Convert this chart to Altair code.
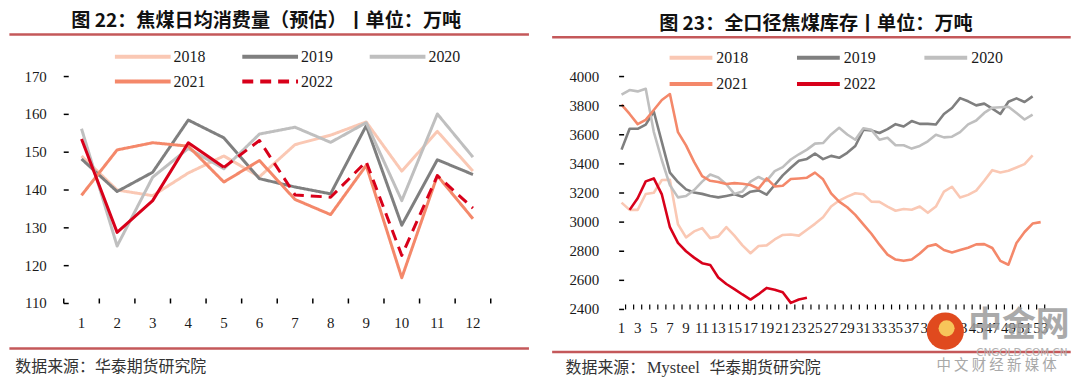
import altair as alt
import pandas as pd

# ---------------- data: left panel (焦煤日均消费量, 万吨) ----------------
months = list(range(1, 13))
cons_years = ["2018", "2019", "2020", "2021", "2022"]
cons_2018 = [149.0, 140.0, 138.5, 144.5, 149.0, 143.5, 152.0, 154.5, 158.0, 145.0, 155.5, 145.0]
cons_2019 = [148.2, 139.6, 144.7, 158.5, 153.8, 143.0, 140.8, 139.0, 157.0, 130.7, 148.0, 144.1]
cons_2020 = [156.2, 125.2, 143.4, 151.0, 145.6, 154.8, 156.6, 152.6, 157.8, 137.2, 160.1, 148.7]
cons_2021 = [138.6, 150.6, 152.5, 151.6, 142.1, 147.8, 137.5, 133.5, 146.5, 116.8, 143.8, 132.4]
cons_2022 = [153.5, 128.8, 137.2, 152.5, 146.0, 153.1, 138.7, 138.1, 147.5, 122.7, 143.8, 135.2]
cons_2022_actual = [True, True, True, True, True, False, False, False, False, False, False, False]
cons_yticks = [110, 120, 130, 140, 150, 160, 170]

# ---------------- data: right panel (全口径焦煤库存, 万吨) ----------------
weeks = list(range(1, 54))
inv_years = ["2018", "2019", "2020", "2021", "2022"]
inv_2018 = [3134, 3084, 3084, 3193, 3202, 3289, 3290, 2985, 2895, 2936, 2959, 2890, 2902,
            2966, 2907, 2840, 2786, 2836, 2840, 2881, 2912, 2915, 2907, 2948, 2988, 3034,
            3107, 3148, 3175, 3198, 3191, 3141, 3139, 3107, 3078, 3090, 3085, 3107, 3064,
            3107, 3209, 3243, 3169, 3187, 3216, 3284, 3357, 3341, 3353, 3375, 3398, 3459]
inv_2019 = [3498, 3641, 3641, 3670, 3760, 3550, 3340, 3275, 3225, 3203, 3194, 3180, 3170,
            3180, 3191, 3175, 3209, 3218, 3189, 3255, 3321, 3373, 3421, 3434, 3471, 3433,
            3455, 3442, 3476, 3523, 3634, 3630, 3612, 3639, 3673, 3657, 3694, 3675, 3675,
            3671, 3743, 3784, 3852, 3830, 3802, 3814, 3780, 3743, 3827, 3850, 3825, 3864]
inv_2020 = [3875, 3907, 3898, 3916, 3620, 3425, 3254, 3170, 3179, 3220, 3278, 3327, 3307,
            3260, 3194, 3210, 3278, 3310, 3283, 3350, 3378, 3430, 3466, 3498, 3539, 3543,
            3602, 3648, 3602, 3566, 3645, 3634, 3566, 3580, 3528, 3528, 3505, 3523, 3555,
            3600, 3582, 3587, 3618, 3671, 3698, 3750, 3786, 3789, 3793, 3750, 3705, 3739]
inv_2021 = [3807, 3743, 3673, 3702, 3770, 3839, 3880, 3618, 3527, 3414, 3316, 3284, 3275,
            3262, 3268, 3264, 3255, 3230, 3300, 3245, 3250, 3296, 3300, 3305, 3340, 3294,
            3198, 3141, 3102, 3050, 2984, 2920, 2845, 2777, 2743, 2734, 2743, 2784, 2834,
            2847, 2808, 2792, 2808, 2824, 2847, 2849, 2822, 2734, 2707, 2857, 2932, 2990, 3000]
inv_2022_start_week = 2
inv_2022 = [3084, 3164, 3280, 3300, 3190, 2965, 2857, 2800, 2756, 2718, 2706, 2620,
            2575, 2540, 2503, 2468, 2505, 2548, 2536, 2518, 2445, 2468, 2480]
inv_yticks = [2400, 2600, 2800, 3000, 3200, 3400, 3600, 3800, 4000]
inv_xlabels = list(range(1, 54, 2))

# ---------------- text ----------------
title_left = "图 22：焦煤日均消费量（预估）丨单位：万吨"
title_right = "图 23：全口径焦煤库存丨单位：万吨"
src_left = "数据来源：华泰期货研究院"
src_right_a = "数据来源："
src_right_b = "Mysteel"
src_right_c = "华泰期货研究院"

# ---------------- style ----------------
FONT_CJK = "Noto Sans CJK SC"
FONT_NUM = "Liberation Serif"
RULE_RED = "#C4585A"
TXT = "#1a1a1a"
COLORS = ["#FAC8B4", "#7F7F7F", "#BFBFBF", "#F4886A", "#D8001A"]
one = pd.DataFrame({"k": [0]})


def text_layer(txt, x, y, size, weight="normal", color=TXT, align="left", font=FONT_CJK, opacity=1.0):
    return alt.Chart(pd.DataFrame({"t": [txt]})).mark_text(
        font=font, fontSize=size, fontWeight=weight, color=color, align=align,
        baseline="middle", opacity=opacity
    ).encode(text="t:N", x=alt.value(x), y=alt.value(y))


def hrule(x1, x2, y, color=RULE_RED, w=2.5, opacity=1.0):
    return alt.Chart(one).mark_rule(color=color, strokeWidth=w, opacity=opacity).encode(
        x=alt.value(x1), x2=alt.value(x2), y=alt.value(y))


AXIS = alt.Axis(title=None, labels=False, tickSize=0, grid=False,
                domainColor="black", domainWidth=1.5)


def y_labels(ticks, dx):
    return alt.Chart(pd.DataFrame({"value": ticks})).mark_text(
        font=FONT_NUM, fontSize=15, color=TXT, align="right", baseline="middle"
    ).encode(y=alt.Y("value:Q", axis=None), x=alt.value(dx), text=alt.Text("value:Q", format="d"))


def x_labels(field, ticks, ypos):
    return alt.Chart(pd.DataFrame({field: ticks})).mark_text(
        font=FONT_NUM, fontSize=15, color=TXT, align="center", baseline="middle"
    ).encode(x=alt.X(f"{field}:Q", axis=None), y=alt.value(ypos), text=alt.Text(f"{field}:Q", format="d"))


# ================= LEFT PANEL =================
W1, H1 = 429, 228
rows = []
for yr, vals in zip(cons_years[:4], [cons_2018, cons_2019, cons_2020, cons_2021]):
    rows += [{"month": m, "value": v, "year": yr} for m, v in zip(months, vals)]
last_act = max(m for m, a in zip(months, cons_2022_actual) if a)
rows += [{"month": m, "value": v, "year": "2022"} for m, v in zip(months, cons_2022) if m >= last_act]
df_left = pd.DataFrame(rows)
df_left_act = pd.DataFrame([{"month": m, "value": v} for m, v, a in zip(months, cons_2022, cons_2022_actual) if a])

xl = alt.X("month:Q", scale=alt.Scale(domain=[0.5, 12.5], nice=False, zero=False), axis=AXIS)
yl = alt.Y("value:Q", scale=alt.Scale(domain=[110, 170], nice=False, zero=False), axis=AXIS)

leg_left = dict(title=None, orient="none", legendX=49.4, legendY=-28, columns=3, direction="horizontal",
                symbolType="stroke", symbolSize=56 * 56, symbolStrokeWidth=4, clipHeight=16,
                rowPadding=9, columnPadding=35, labelFont=FONT_NUM, labelFontSize=16,
                labelColor=TXT, labelOffset=1, padding=0)

lines_left = alt.Chart(df_left).mark_line(strokeWidth=3, strokeJoin="round").encode(
    x=xl, y=yl,
    color=alt.Color("year:N", scale=alt.Scale(domain=cons_years, range=COLORS), legend=alt.Legend(**leg_left)),
    strokeDash=alt.StrokeDash("year:N", scale=alt.Scale(domain=cons_years,
                              range=[[1, 0], [1, 0], [1, 0], [1, 0], [11, 7]]), legend=alt.Legend(**leg_left)),
)
solid_left = alt.Chart(df_left_act).mark_line(strokeWidth=3, strokeJoin="round", color=COLORS[4]).encode(
    x=alt.X("month:Q", axis=None), y=alt.Y("value:Q", axis=None))
yt_left = alt.Chart(pd.DataFrame({"value": cons_yticks})).mark_rule(color="black", strokeWidth=1.5).encode(
    y=alt.Y("value:Q", axis=None), x=alt.value(0), x2=alt.value(5))
xt_left = alt.Chart(pd.DataFrame({"month": [m + 0.5 for m in [0] + months]})).mark_rule(
    color="black", strokeWidth=1.5).encode(x=alt.X("month:Q", axis=None), y=alt.value(H1), y2=alt.value(H1 - 5))

left = alt.layer(
    lines_left, solid_left, yt_left, xt_left,
    y_labels(cons_yticks, -17), x_labels("month", months, H1 + 20),
    hrule(-54.6, 467.4, -67.5, color="white", w=1, opacity=0),
    text_layer(title_left, 203.4, -55.6, 19.2, weight="bold", color="#111", align="center"),
    hrule(-54.6, 467.4, -42.3),
    hrule(-54.6, 467.4, 273.3),
    text_layer(src_left, -48.6, 292, 16, color="#333"),
).properties(width=W1, height=H1)

# ================= RIGHT PANEL =================
W2, H2 = 430, 234
rows = []
for yr, vals in zip(inv_years[:4], [inv_2018, inv_2019, inv_2020, inv_2021]):
    rows += [{"week": w, "value": v, "year": yr} for w, v in zip(weeks, vals)]
rows += [{"week": inv_2022_start_week + i, "value": v, "year": "2022"} for i, v in enumerate(inv_2022)]
df_right = pd.DataFrame(rows)

xr = alt.X("week:Q", scale=alt.Scale(domain=[0.7, 53.8], nice=False, zero=False), axis=AXIS)
yr_ = alt.Y("value:Q", scale=alt.Scale(domain=[2400, 4000], nice=False, zero=False), axis=AXIS)

leg_right = dict(title=None, orient="none", legendX=48.7, legendY=-27, columns=3, direction="horizontal",
                 symbolType="stroke", symbolSize=43 * 43, symbolStrokeWidth=4, clipHeight=16,
                 rowPadding=10.5, columnPadding=47, labelFont=FONT_NUM, labelFontSize=16,
                 labelColor=TXT, labelOffset=2, padding=0)

lines_right = alt.Chart(df_right).mark_line(strokeWidth=2.6, strokeJoin="round").encode(
    x=xr, y=yr_,
    color=alt.Color("inv_year:N", scale=alt.Scale(domain=inv_years, range=COLORS), legend=alt.Legend(**leg_right)),
).transform_calculate(inv_year="datum.year")
yt_right = alt.Chart(pd.DataFrame({"value": inv_yticks})).mark_rule(color="black", strokeWidth=1.5).encode(
    y=alt.Y("value:Q", axis=None), x=alt.value(0), x2=alt.value(5))
xt_right = alt.Chart(pd.DataFrame({"week": [w + 0.5 for w in weeks]})).mark_rule(
    color="black", strokeWidth=1.2).encode(x=alt.X("week:Q", axis=None), y=alt.value(H2), y2=alt.value(H2 - 5))

logo_outer = alt.Chart(one).mark_circle(color="#E04A1E", opacity=1, size=1400).encode(
    x=alt.value(327.7), y=alt.value(255.7))
logo_inner = alt.Chart(one).mark_circle(color="#F7C55A", opacity=1, size=260).encode(
    x=alt.value(329), y=alt.value(253))

right = alt.layer(
    lines_right, yt_right, xt_right,
    y_labels(inv_yticks, -20), x_labels("week", inv_xlabels, H2 + 18.7),
    hrule(-67.3, 453.7, -64.8, color="white", w=1, opacity=0),
    text_layer(title_right, 197.7, -52.9, 19.2, weight="bold", color="#111", align="center"),
    hrule(-67.3, 453.7, -39.6),
    hrule(-67.3, 453.7, 276.7),
    text_layer(src_right_a, -53.8, 292.7, 16, color="#333"),
    text_layer(src_right_b, 28, 292.7, 16.5, color="#333", font=FONT_NUM),
    text_layer(src_right_c, 90.7, 292.7, 16, color="#333"),
    logo_outer, logo_inner,
    text_layer("中金网", 401.7, 250.7, 34, weight="bold", color="#9C9C9C", align="center", opacity=0.85),
    text_layer("CNGOLD.COM.CN", 404.7, 277.7, 10.5, color="#B0B0B0", align="center", font="DejaVu Sans"),
    text_layer("中 文 财 经 新 媒 体", 379.2, 290.7, 14.5, color="#A8A8A8", align="center"),
).properties(width=W2, height=H2)

chart = (
    alt.hconcat(left, right, spacing=20)
    .resolve_scale(color="independent", strokeDash="independent")
    .resolve_legend(color="independent", strokeDash="independent")
    .properties(padding=0)
    .configure_view(strokeWidth=0)
)

chart.save("out.html", embed_options={"renderer": "svg", "actions": False})
